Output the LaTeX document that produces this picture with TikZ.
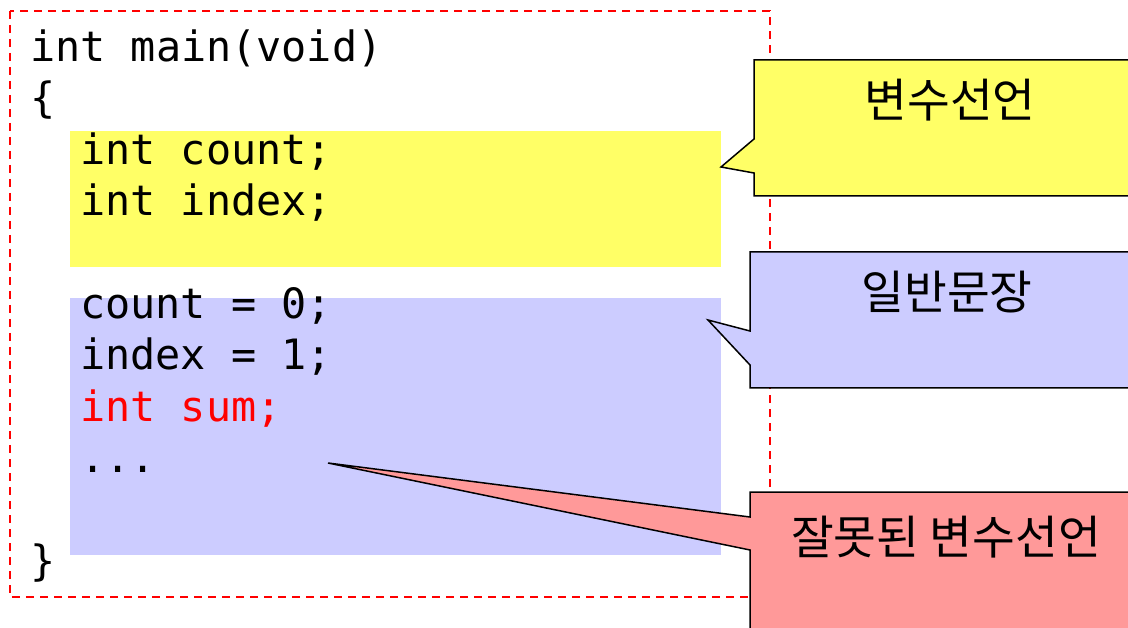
\documentclass[tikz,border=0pt]{standalone}
\usepackage{fontspec}
\setmonofont{DejaVu Sans Mono}
\newfontfamily\krfont{Noto Sans CJK KR}
\usepackage{tikz}
\usepackage{xcolor}

\definecolor{declyellow}{RGB}{255,255,102}
\definecolor{stmtblue}{RGB}{204,204,255}
\definecolor{errred}{RGB}{255,153,153}

\begin{document}
\begin{tikzpicture}[x=1pt, y=-1pt,
  code/.style={anchor=base west, inner sep=0pt, font=\ttfamily\fontsize{41.8}{50}\selectfont},
  band/.style={anchor=north west, inner sep=0pt, minimum width=651pt},
  note/.style={inner sep=0pt, font=\krfont\fontsize{46.5}{50}\selectfont},
  callout/.style={draw=black, line width=1.5pt, line join=miter}]
\useasboundingbox (0,0) rectangle (1128,628);
\clip (0,0) rectangle (1128,628);

% frame of the function
\draw[red, line width=2pt, dash pattern=on 8pt off 6pt] (10,11) rectangle (770,597);

% highlighted parts
\node[band, fill=declyellow, minimum height=136pt] (declband) at (70,131) {};
\node[band, fill=stmtblue, minimum height=257pt] (stmtband) at (70,298) {};

% source lines
\node[code] (l1) at (30,62) {int main(void)};
\node[code] (l2) at (30,113) {\{};
\node[code] (l3) at (80,165) {int count;};
\node[code] (l4) at (80,216) {int index;};
\node[code] (l5) at (80,319) {count = 0;};
\node[code] (l6) at (80,370) {index = 1;};
\node[code, text=red] (l7) at (80,421) {int sum;};
\node[code] (l8) at (80,472) {...};
\node[code] (l9) at (30,575) {\}};

% callouts
\coordinate (decltip) at (721,167);
\coordinate (stmttip) at (708,320);
\coordinate (errtip) at (328,463);

\draw[callout, fill=declyellow] (754,60) -- (1150,60) -- (1150,196) -- (754,196) -- (754,173) -- (decltip) -- (754,139) -- cycle;
\draw[callout, fill=stmtblue] (750,252) -- (1150,252) -- (1150,388) -- (750,388) -- (750,365) -- (stmttip) -- (750,331) -- cycle;
\draw[callout, fill=errred] (750,492) -- (1150,492) -- (1150,640) -- (750,640) -- (750,550) -- (errtip) -- (750,517) -- cycle;

\node[note] (declnote) at (950,100) {변수선언};
\node[note] (stmtnote) at (947,292) {일반문장};
\node[note] (errnote) at (946,537) {잘못된 변수선언};
\end{tikzpicture}
\end{document}
